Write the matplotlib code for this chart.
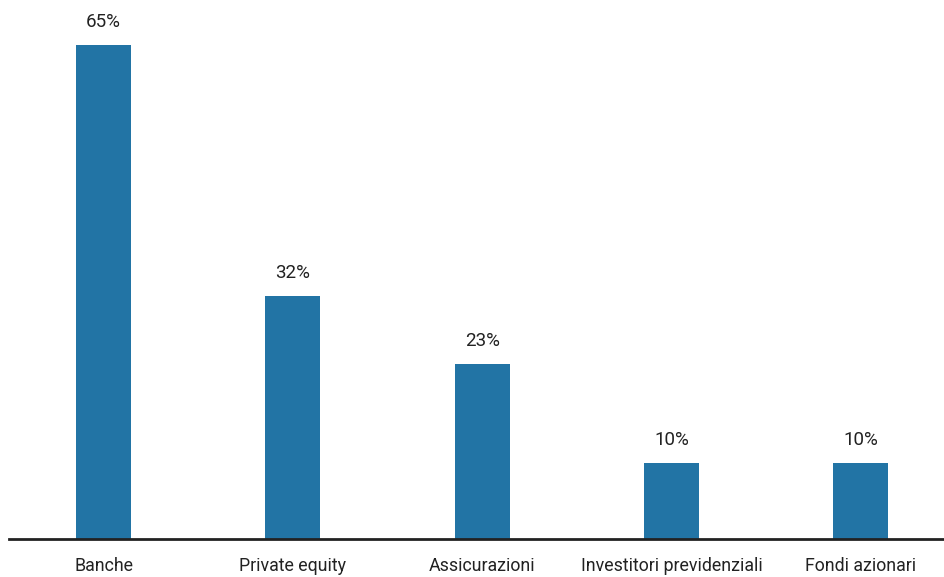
import matplotlib
matplotlib.use("Agg")
import matplotlib.pyplot as plt

categories = ["Banche", "Private equity", "Assicurazioni", "Investitori previdenziali", "Fondi azionari"]
values = [65, 32, 23, 10, 10]
labels = ["65%", "32%", "23%", "10%", "10%"]

plt.rcParams['font.family'] = ['Roboto', 'DejaVu Sans']

fig = plt.figure(figsize=(9.44, 5.77), dpi=100)
ax = fig.add_axes([9 / 944, (577 - 538.5) / 577, 1 - 9 / 944, 538.5 / 577])

x = list(range(len(categories)))
bars = ax.bar(x, values, width=0.29, color="#2274a5", zorder=2)

for xi, v, lab in zip(x, values, labels):
    ax.annotate(lab, (xi, v), xytext=(0, 10), textcoords="offset points",
                ha="center", va="bottom", fontsize=13.5, color="#222222")

ax.set_xlim(-0.5, 4.44)
ax.set_ylim(0, 538.5 / 7.592)
ax.set_xticks(x)
ax.set_xticklabels(categories, fontsize=12.8, color="#222222")
ax.tick_params(axis="x", length=0, pad=13)
ax.set_yticks([])
for s in ["top", "right", "left"]:
    ax.spines[s].set_visible(False)
ax.spines["bottom"].set_linewidth(2)
ax.spines["bottom"].set_color("#222222")

fig.savefig("out.png", dpi=100)
